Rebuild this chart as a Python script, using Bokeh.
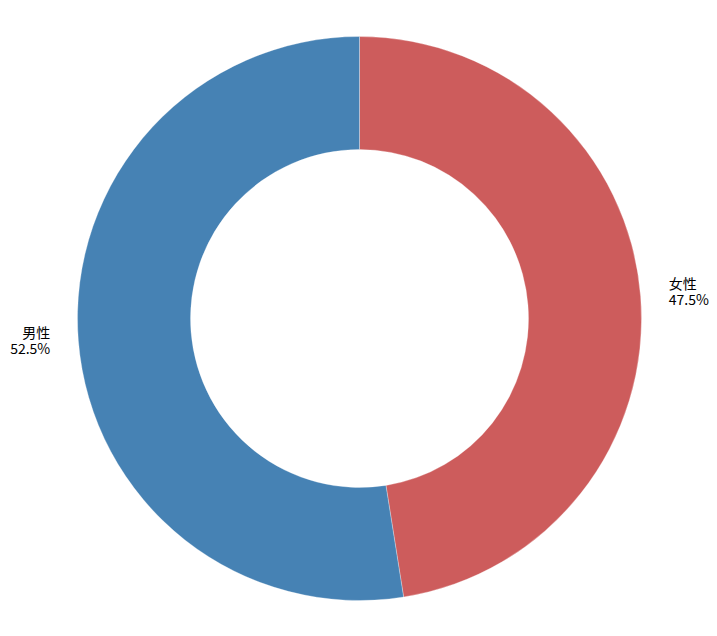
import numpy as np
from bokeh.plotting import figure
from bokeh.models import Range1d, ColumnDataSource
from bokeh.core.properties import value
from bokeh.embed import file_html
from bokeh.resources import INLINE

labels = ["女性", "男性"]
values = [47.5, 52.5]
colors = ["#CD5C5C", "#4682B4"]

W, H = 717, 636
p = figure(width=W, height=H, output_backend="svg", toolbar_location=None,
           x_range=Range1d(-359, 358), y_range=Range1d(-318, 318),
           min_border=0, outline_line_color=None)
p.axis.visible = False
p.grid.visible = False

R_out, R_in = 282, 169
fr = np.array(values) / sum(values)
cum = np.concatenate([[0], np.cumsum(fr)])
# clockwise from top
start = np.pi / 2 - cum[:-1] * 2 * np.pi
end = np.pi / 2 - cum[1:] * 2 * np.pi
src = ColumnDataSource(dict(start=end, end=start, color=colors))
p.annular_wedge(x=0, y=0, inner_radius=R_in, outer_radius=R_out,
                start_angle="start", end_angle="end", fill_color="color",
                line_color="white", line_width=0.3, source=src)

mid = (start + end) / 2
ld = 1.1 * R_out
for lab, v, a in zip(labels, values, mid):
    x = ld * np.cos(a)
    y = ld * np.sin(a)
    align = "left" if np.cos(a) > 0 else "right"
    p.text(x=[x], y=[y], text=[f"{lab}\n{v:.1f}%"], text_align=align,
           text_baseline="middle", text_font=value("Noto Sans CJK SC"),
           text_font_size="14px", text_color="black", text_line_height=0.78,
           y_offset=-3)

open("out.html", "w").write(file_html(p, INLINE))
